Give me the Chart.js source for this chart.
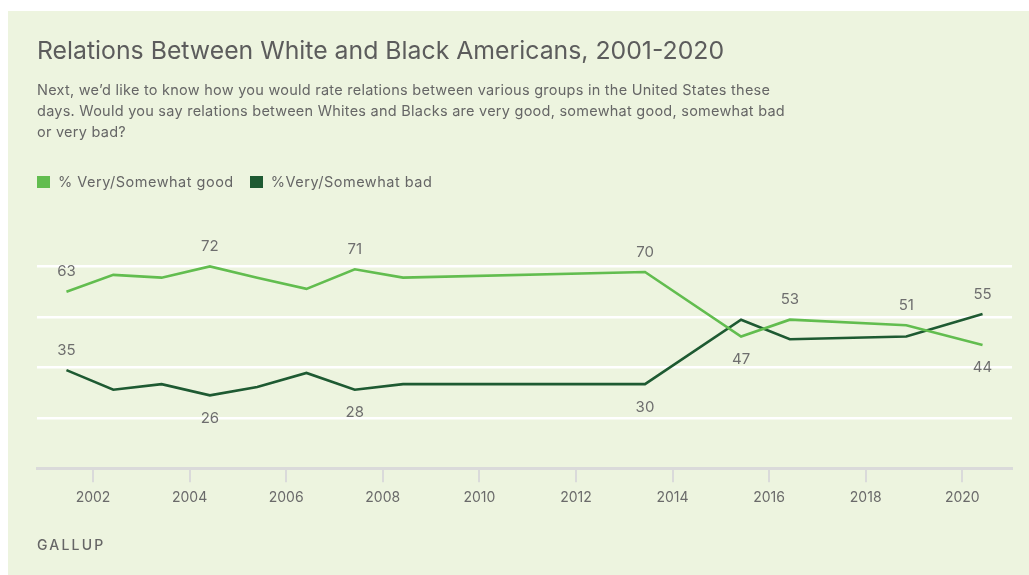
<!DOCTYPE html>
<html>
<head>
<meta charset="utf-8">
<script src="https://cdn.jsdelivr.net/npm/chart.js@4.4.1/dist/chart.umd.min.js"></script>
<style>
  html, body { margin: 0; padding: 0; width: 1029px; height: 575px; overflow: hidden; background: #fff; font-family: Inter, "Noto Sans", sans-serif; }
  #panel { position: absolute; left: 8px; top: 11px; right: 0; bottom: 0; background: #edf4df; }
  #chart { position: absolute; left: 0; top: 0; }
  .title { position: absolute; left: 37px; top: 36px; font-size: 24.8px; line-height: 29px; color: #5c5c5c; white-space: nowrap; }
  .sub { position: absolute; left: 37px; top: 79px; font-size: 14.5px; letter-spacing: 0.25px; line-height: 21px; color: #666; white-space: nowrap; }
  .legend { position: absolute; left: 37px; top: 173px; font-size: 14.5px; letter-spacing: 0.5px; line-height: 17px; color: #666; white-space: nowrap; }
  .legend span.sw { display: inline-block; width: 13px; height: 12px; vertical-align: -1px; margin-right: 8px; }
  .legend span.item { margin-right: 16px; }
  .source { position: absolute; left: 37px; top: 536px; font-size: 14px; font-weight: 500; letter-spacing: 2.2px; color: #666; }
</style>
</head>
<body>
<div id="panel"></div>
<canvas id="chart" width="1029" height="575"></canvas>
<div class="title">Relations Between White and Black Americans, 2001-2020</div>
<div class="sub">Next, we’d like to know how you would rate relations between various groups in the United States these<br>days. Would you say relations between Whites and Blacks are very good, somewhat good, somewhat bad<br>or very bad?</div>
<div class="legend"><span class="item"><span class="sw" style="background:#62bd4f"></span>% Very/Somewhat good</span><span class="item"><span class="sw" style="background:#1e5a32"></span>%Very/Somewhat bad</span></div>
<div class="source">GALLUP</div>
<script>
// ─── DATA ────────────────────────────────────────────────────
const surveyDates = [2001.45, 2002.42, 2003.42, 2004.42, 2005.40, 2006.42, 2007.42, 2008.42, 2013.43, 2015.42, 2016.43, 2018.84, 2020.42];
const goodPct     = [63, 69, 68, 72, 68, 64, 71, 68, 70, 47, 53, 51, 44];
const badPct      = [35, 28, 30, 26, 29, 34, 28, 30, 30, 53, 46, 47, 55];
const yearTicks   = [2002, 2004, 2006, 2008, 2010, 2012, 2014, 2016, 2018, 2020];
const seriesNames = ['% Very/Somewhat good', '%Very/Somewhat bad'];

// which points get a value label, and where (a = above, b = below)
const goodLabels = { 0: 'a', 3: 'a', 6: 'a', 8: 'a', 9: 'b', 10: 'a', 11: 'a', 12: 'b' };
const badLabels  = { 0: 'a', 3: 'b', 6: 'b', 8: 'b', 12: 'a' };

// ─── VALUE LABELS ────────────────────────────────────────────
const valueLabels = {
    id: 'valueLabels',
    afterDatasetsDraw(chart) {
        const ctx = chart.ctx;
        ctx.save();
        ctx.font = '15px Inter, "Noto Sans", sans-serif';
        ctx.fillStyle = '#6e6e6e';
        ctx.textAlign = 'center';
        ctx.textBaseline = 'middle';
        [goodLabels, badLabels].forEach((spec, di) => {
            const meta = chart.getDatasetMeta(di);
            const vals = chart.data.datasets[di].data;
            Object.keys(spec).forEach(k => {
                const pt = meta.data[k];
                const dy = spec[k] === 'a' ? -20 : 23;
                ctx.fillText(String(vals[k].y), pt.x, pt.y + dy);
            });
        });
        ctx.restore();
    }
};

// ─── CHART ───────────────────────────────────────────────────
new Chart(document.getElementById('chart'), {
    type: 'line',
    data: {
        datasets: [
            {
                label: seriesNames[0],
                data: surveyDates.map((d, i) => ({ x: d, y: goodPct[i] })),
                borderColor: '#62bd4f',
                borderWidth: 2.6,
                pointRadius: 0,
                tension: 0
            },
            {
                label: seriesNames[1],
                data: surveyDates.map((d, i) => ({ x: d, y: badPct[i] })),
                borderColor: '#1e5a32',
                borderWidth: 2.6,
                pointRadius: 0,
                tension: 0
            }
        ]
    },
    options: {
        responsive: false,
        animation: false,
        layout: { padding: { left: 37, right: 17, top: 216, bottom: 62 } },
        plugins: { legend: { display: false }, tooltip: { enabled: false } },
        scales: {
            x: {
                type: 'linear',
                min: 2000.84,
                max: 2021.03,
                afterBuildTicks: axis => { axis.ticks = yearTicks.map(v => ({ value: v })); },
                ticks: {
                    autoSkip: false,
                    maxRotation: 0,
                    padding: 7,
                    color: '#6a6a6a',
                    font: { family: 'Inter, "Noto Sans", sans-serif', size: 14 },
                    callback: v => String(v)
                },
                grid: { drawOnChartArea: false, drawTicks: true, tickLength: 14, color: '#dadada', lineWidth: 2 },
                border: { color: '#dadada', width: 3 }
            },
            y: {
                min: 0,
                max: 90,
                ticks: { stepSize: 18, display: false },
                grid: {
                    drawTicks: false,
                    lineWidth: 2.5,
                    color: c => (c.tick.value === 0 || c.tick.value === 90) ? 'rgba(0,0,0,0)' : '#ffffff'
                },
                border: { display: false }
            }
        }
    },
    plugins: [valueLabels]
});
</script>
</body>
</html>
